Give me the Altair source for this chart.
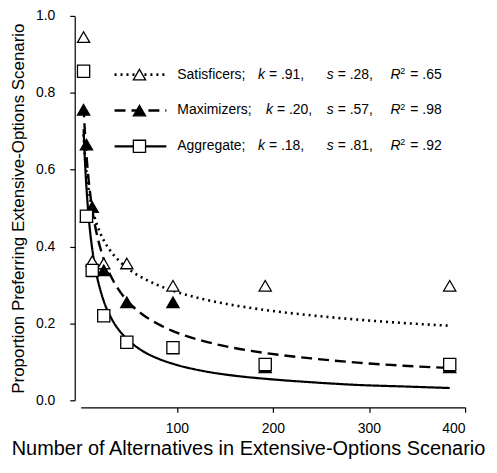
import altair as alt
import pandas as pd

FONT = "Liberation Sans"

# Observed data points
x_obs = [3, 6, 12, 24, 48, 96, 192, 384]
sat_obs = [0.945, 0.478, 0.362, 0.356, 0.356, 0.298, 0.298, 0.298]
max_obs = [0.756, 0.665, 0.503, 0.338, 0.255, 0.255, 0.086, 0.086]
agg_obs = [0.856, 0.479, 0.338, 0.220, 0.151, 0.137, 0.093, 0.093]

# Fitted curves
x_fit = [3, 4, 5, 6, 8, 10, 12, 16, 20, 24, 32, 40, 48, 64, 80, 96, 128, 160, 192, 240, 288, 336, 384]
sat_fit = [0.692, 0.651, 0.619, 0.593, 0.553, 0.523, 0.500, 0.464, 0.437, 0.416, 0.385, 0.363, 0.345,
           0.319, 0.300, 0.285, 0.263, 0.247, 0.235, 0.221, 0.210, 0.201, 0.194]
max_fit = [0.765, 0.715, 0.674, 0.638, 0.580, 0.535, 0.498, 0.441, 0.400, 0.367, 0.320, 0.286, 0.260,
           0.224, 0.199, 0.180, 0.154, 0.136, 0.123, 0.109, 0.098, 0.090, 0.084]
agg_fit = [0.705, 0.645, 0.595, 0.553, 0.486, 0.434, 0.394, 0.333, 0.291, 0.258, 0.213, 0.182, 0.160,
           0.129, 0.109, 0.095, 0.076, 0.064, 0.056, 0.047, 0.040, 0.036, 0.032]

series = ["Satisficers", "Maximizers", "Aggregate"]
k_vals = [".91", ".20", ".18"]
s_vals = [".28", ".57", ".81"]
r2_vals = [".65", ".98", ".92"]

obs = pd.concat([
    pd.DataFrame({"x": x_obs, "y": v, "series": n})
    for n, v in zip(series, [sat_obs, max_obs, agg_obs])
])
fit = pd.concat([
    pd.DataFrame({"x": x_fit, "y": v, "series": n})
    for n, v in zip(series, [sat_fit, max_fit, agg_fit])
])

xs = alt.Scale(domain=[0, 400], nice=False)
ys = alt.Scale(domain=[0, 1], nice=False)

xax = alt.Axis(values=[100, 200, 300, 400], title="Number of Alternatives in Extensive-Options Scenario",
               grid=False, offset=7, tickSize=5, labelPadding=9, labelFontSize=14, titleFontSize=20,
               titleX=168, titleY=47, titleBaseline="alphabetic", titleAlign="center",
               labelFont=FONT, titleFont=FONT, domainColor="black", tickColor="black",
               labelColor="black", titleColor="black", titleFontWeight="normal")
yax = alt.Axis(values=[0, 0.2, 0.4, 0.6, 0.8, 1.0], format=".1f",
               title="Proportion Preferring Extensive-Options Scenario",
               grid=False, offset=6, tickSize=5, labelPadding=15, labelFontSize=14, titleFontSize=17,
               titlePadding=8, labelFont=FONT, titleFont=FONT, domainColor="black", tickColor="black",
               labelColor="black", titleColor="black", titleFontWeight="normal")

dash_scale = alt.Scale(domain=series, range=[[2, 4], [11, 6], [1, 0]])
shape_scale = alt.Scale(domain=series, range=["triangle-up", "triangle-up", "square"])
fill_scale = alt.Scale(domain=series, range=["white", "black", "white"])
width_scale = alt.Scale(domain=series, range=[2.6, 2.2, 2.2])

lines = alt.Chart(fit).mark_line(color="black", interpolate="monotone").encode(
    x=alt.X("x:Q", scale=xs, axis=xax),
    y=alt.Y("y:Q", scale=ys, axis=yax),
    detail="series:N",
    strokeDash=alt.StrokeDash("series:N", scale=dash_scale, legend=None),
    strokeWidth=alt.StrokeWidth("series:N", scale=width_scale, legend=None),
)

points = alt.Chart(obs).mark_point(stroke="black", strokeWidth=1.3, filled=False, size=150, opacity=1).encode(
    x=alt.X("x:Q", scale=xs),
    y=alt.Y("y:Q", scale=ys),
    shape=alt.Shape("series:N", scale=shape_scale, legend=None),
    fill=alt.Fill("series:N", scale=fill_scale, legend=None),
)

# Custom legend
leg = pd.DataFrame({
    "series": series,
    "row": [0, 1, 2],
    "k": k_vals, "s": s_vals, "r2": r2_vals,
})
leg["name"] = leg["series"] + ";"
leg["kv"] = "= " + leg["k"] + ","
leg["sv"] = "= " + leg["s"] + ","
leg["rv"] = "= " + leg["r2"]
leg["kl"] = "k"
leg["sl"] = "s"
leg["rl"] = "R"
leg["two"] = "2"

base = alt.Chart(leg).transform_calculate(
    ypx="59 + 36 * datum.row",
    kxpos="datum.row == 1 ? 186 : 178",
    kxpos2="(datum.row == 1 ? 186 : 178) + 11",
)
row_y = alt.Y("ypx:Q", scale=None, axis=None)

leg_lines = base.mark_rule(color="black").encode(
    x=alt.value(34), x2=alt.value(86),
    y=row_y,
    strokeDash=alt.StrokeDash("series:N", scale=dash_scale, legend=None),
    strokeWidth=alt.StrokeWidth("series:N", scale=width_scale, legend=None),
)
leg_pts = base.mark_point(stroke="black", strokeWidth=1.3, size=150, opacity=1).encode(
    x=alt.value(59),
    y=row_y,
    shape=alt.Shape("series:N", scale=shape_scale, legend=None),
    fill=alt.Fill("series:N", scale=fill_scale, legend=None),
)


def txt(field, xpx, italic=False, size=14, dy=0):
    return base.mark_text(align="left", baseline="middle", font=FONT, fontSize=size,
                          fontStyle="italic" if italic else "normal", color="black", dy=dy).encode(
        x=alt.value(xpx), y=row_y, text=f"{field}:N")


k_lab = base.mark_text(align="left", baseline="middle", font=FONT, fontSize=14, fontStyle="italic",
                       color="black").encode(x=alt.X("kxpos:Q", scale=None, axis=None), y=row_y, text="kl:N")
k_val = base.mark_text(align="left", baseline="middle", font=FONT, fontSize=14,
                       color="black").encode(x=alt.X("kxpos2:Q", scale=None, axis=None), y=row_y, text="kv:N")

legend_layers = [leg_lines, leg_pts, txt("name", 97), k_lab, k_val,
                 txt("sl", 247, True), txt("sv", 258), txt("rl", 311, True),
                 txt("two", 321, size=9, dy=-4), txt("rv", 331)]

chart = alt.layer(lines, points, *legend_layers).properties(
    width=386, height=386,
    autosize=alt.AutoSizeParams(type="none"),
    padding={"left": 73, "top": 7, "right": 24, "bottom": 60},
).configure_view(stroke=None).configure_axis(domainWidth=1.2, tickWidth=1.2)

chart.save("out.html", embed_options={"renderer": "svg", "actions": False})
